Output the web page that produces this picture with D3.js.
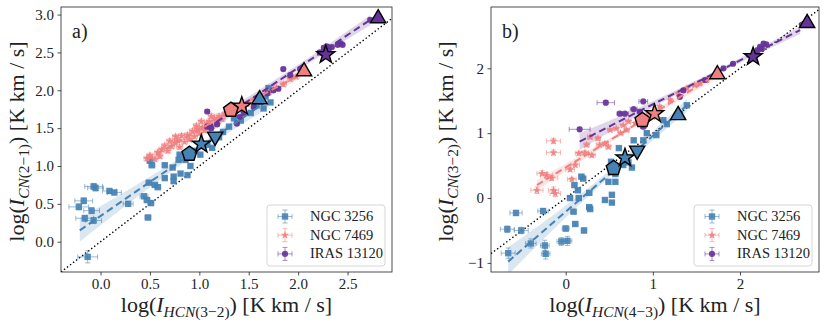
<!doctype html>
<html lang="en">
<head>
<meta charset="UTF-8" />
<script src="https://d3js.org/d3.v7.min.js"></script>
<title>CN vs HCN</title>
<style>
  body { margin: 0; background: white; }
  svg text { font-family: "Liberation Serif", "Times New Roman", serif; fill: #222; }
</style>
</head>
<body>
<div id="chart"></div>
<script>
// ---- data: [x, y, xerr, yerr] in log K km/s ----
// panel a) CN(2-1) vs HCN(3-2)
const a_ngc3256 = [
  [-0.13,-0.20,0.10,0.08],[-0.07,0.73,0.09,0.04],[-0.05,0.71,0.08,0.04],[0.09,0.67,0.07,0.03],
  [0.14,0.65,0.07,0.03],[-0.17,0.54,0.09,0.04],[-0.22,0.46,0.10,0.04],[-0.09,0.41,0.08,0.04],
  [-0.16,0.31,0.09,0.04],[-0.07,0.28,0.08,0.04],[0.28,0.50,0.05,0.03],[0.48,0.32,0.03,0.03],
  [0.44,0.60,0.04,0.03],[0.47,0.55,0.03,0.03],[0.51,0.51,0.03,0.03],[0.49,0.78,0.03,0.02],
  [0.55,0.75,0.03,0.02],[0.58,0.72,0.03,0.02],[0.50,1.07,0.03,0.02],[0.52,1.01,0.03,0.02],
  [0.65,1.01,0.02,0.02],[0.65,0.84,0.02,0.02],[0.74,0.86,0.02,0.02],[0.74,0.80,0.02,0.02],
  [0.81,0.90,0.02,0.02],[0.88,0.88,0.02,0.02],[0.73,0.98,0.02,0.02],[0.79,1.08,0.02,0.02],
  [0.80,1.15,0.02,0.02],[0.86,1.08,0.02,0.02],[0.91,1.00,0.02,0.02],[0.96,1.20,0.02,0.02],
  [1.01,1.15,0.02,0.02],[1.08,1.28,0.02,0.02],[1.13,1.24,0.02,0.02],[1.20,1.38,0.02,0.02],
  [1.24,1.45,0.02,0.02],[1.30,1.52,0.02,0.02],[1.35,1.63,0.02,0.02],[1.42,1.60,0.02,0.02],
  [1.45,1.74,0.02,0.02],[1.52,1.70,0.02,0.02],[1.58,1.80,0.02,0.02],[1.65,1.76,0.02,0.02],
  [1.67,1.92,0.02,0.02],[1.70,2.03,0.02,0.02],[1.72,1.84,0.02,0.02]
]
const a_ngc7469 = [
  [0.47,1.10,0.03,0.03],[0.50,1.14,0.03,0.03],[0.55,1.09,0.03,0.03],[0.58,1.18,0.03,0.03],
  [0.60,1.13,0.03,0.03],[0.62,1.22,0.03,0.03],[0.65,1.27,0.03,0.03],[0.68,1.20,0.03,0.03],
  [0.70,1.33,0.03,0.03],[0.72,1.26,0.03,0.03],[0.75,1.31,0.03,0.03],[0.76,1.39,0.03,0.03],
  [0.78,1.34,0.03,0.03],[0.80,1.25,0.03,0.03],[0.82,1.40,0.03,0.03],[0.85,1.32,0.03,0.03],
  [0.88,1.41,0.03,0.03],[0.90,1.35,0.03,0.03],[0.93,1.46,0.03,0.03],[0.95,1.39,0.03,0.03],
  [0.97,1.53,0.03,0.03],[0.98,1.49,0.03,0.03],[1.00,1.43,0.03,0.03],[1.02,1.59,0.03,0.03],
  [1.03,1.51,0.03,0.03],[1.05,1.47,0.03,0.03],[1.08,1.56,0.03,0.03],[1.10,1.59,0.03,0.03],
  [1.12,1.66,0.03,0.03],[1.13,1.53,0.03,0.03],[1.15,1.63,0.03,0.03],[1.18,1.59,0.03,0.03],
  [1.20,1.66,0.03,0.03],[1.23,1.62,0.03,0.03],[1.26,1.69,0.03,0.03],[1.30,1.72,0.03,0.03],
  [1.35,1.76,0.03,0.03],[1.40,1.78,0.03,0.03],[1.48,1.82,0.03,0.03],[1.55,1.87,0.03,0.03],
  [1.62,1.92,0.03,0.03],[1.70,1.97,0.03,0.03],[1.78,2.03,0.03,0.03],[1.85,2.08,0.03,0.03],
  [1.92,2.15,0.03,0.03],[1.98,2.18,0.03,0.03]
]
const a_iras13120 = [
  [1.08,1.72,0.02,0.02],[1.08,1.52,0.02,0.02],[1.12,1.50,0.02,0.02],[1.18,1.55,0.02,0.02],
  [1.38,1.56,0.02,0.02],[1.41,1.65,0.02,0.02],[1.45,1.70,0.02,0.02],[1.55,1.78,0.02,0.02],
  [1.62,1.85,0.02,0.02],[1.69,1.96,0.02,0.02],[1.75,2.00,0.02,0.02],[1.80,2.02,0.02,0.02],
  [1.85,2.28,0.02,0.02],[1.92,2.20,0.02,0.02],[2.02,2.28,0.02,0.02],[2.22,2.50,0.02,0.02],
  [2.26,2.56,0.02,0.02],[2.29,2.58,0.02,0.02],[2.31,2.55,0.02,0.02],[2.34,2.57,0.02,0.02],
  [2.40,2.60,0.02,0.02],[2.43,2.62,0.02,0.02],[2.45,2.60,0.02,0.02],[2.73,2.93,0.02,0.02]
]
// integrated values (big markers): [x, y, galaxy, shape]
const a_big = [
  [0.90,1.16,"n3256","pentagon"],[1.02,1.29,"n3256","star"],[1.16,1.37,"n3256","down"],
  [1.61,1.90,"n3256","up"],[1.32,1.74,"n7469","pentagon"],[1.43,1.79,"n7469","star"],
  [2.06,2.27,"n7469","up"],[2.28,2.47,"iras","star"],[2.81,2.97,"iras","up"]
]
// fits: [x, y, ylow, yhigh]
const a_fit3256 = [[-0.21,0.15,0.00,0.31],[0.40,0.70,0.62,0.78],[0.75,1.01,0.96,1.06],[1.20,1.42,1.36,1.47],[1.70,1.87,1.77,1.95]]
const a_fit7469 = [[0.47,1.08,1.03,1.13],[1.20,1.63,1.61,1.66],[1.98,2.18,2.13,2.23]]
const a_fitiras = [[1.08,1.50,1.43,1.58],[1.90,2.21,2.18,2.25],[2.73,2.93,2.86,2.99]]

// panel b) CN(3-2) vs HCN(4-3)
const b_ngc3256 = [
  [-0.66,-0.85,0.08,0.08],[-0.67,-0.48,0.08,0.05],[-0.51,-0.50,0.08,0.05],[-0.57,-0.23,0.07,0.04],
  [-0.26,-0.20,0.06,0.04],[-0.40,-0.70,0.06,0.07],[-0.24,-0.73,0.05,0.08],[-0.23,-0.86,0.05,0.08],
  [-0.05,-0.67,0.05,0.06],[0.02,-0.66,0.05,0.07],[0.00,-0.47,0.04,0.04],[0.11,-0.40,0.03,0.03],
  [0.21,-0.50,0.03,0.04],[0.09,-0.21,0.03,0.03],[0.05,0.00,0.03,0.03],[0.15,0.00,0.03,0.03],
  [0.27,-0.14,0.03,0.03],[0.28,-0.17,0.03,0.03],[0.27,0.08,0.03,0.03],[0.14,0.12,0.03,0.03],
  [0.10,0.20,0.03,0.03],[0.18,0.33,0.03,0.03],[0.20,0.30,0.03,0.03],[0.45,-0.03,0.02,0.02],
  [0.53,0.05,0.02,0.02],[0.53,-0.07,0.02,0.02],[0.49,0.25,0.02,0.02],[0.57,0.25,0.02,0.02],
  [0.57,0.37,0.02,0.02],[0.52,0.56,0.02,0.02],[0.66,0.51,0.02,0.02],[0.76,0.47,0.02,0.02],
  [0.72,0.55,0.02,0.02],[0.61,0.77,0.02,0.02],[0.78,0.89,0.02,0.02],[0.89,0.89,0.02,0.02],
  [0.93,1.00,0.02,0.02],[1.04,0.97,0.02,0.02],[1.12,1.20,0.02,0.02],[1.16,1.14,0.02,0.02],
  [1.31,1.30,0.02,0.02],[1.39,1.43,0.02,0.02]
]
const b_ngc7469 = [
  [-0.14,0.88,0.08,0.04],[-0.14,0.70,0.08,0.04],[-0.22,0.35,0.07,0.04],[-0.16,0.31,0.07,0.04],
  [-0.33,0.12,0.07,0.05],[-0.14,0.12,0.06,0.05],[-0.12,0.07,0.06,0.05],[-0.27,0.38,0.06,0.04],
  [0.05,0.44,0.05,0.03],[0.11,0.51,0.05,0.03],[0.07,0.29,0.05,0.03],[0.15,0.69,0.04,0.03],
  [0.22,0.70,0.04,0.03],[0.30,0.66,0.04,0.03],[0.39,0.82,0.04,0.03],[0.45,0.84,0.03,0.03],
  [0.49,0.79,0.03,0.03],[0.37,0.92,0.03,0.03],[0.28,0.94,0.03,0.03],[0.24,0.82,0.03,0.03],
  [0.51,1.05,0.03,0.02],[0.58,1.07,0.03,0.02],[0.66,1.12,0.03,0.02],[0.72,1.18,0.03,0.02],
  [0.70,1.05,0.03,0.02],[0.63,1.00,0.03,0.02],[0.80,1.15,0.02,0.02],[0.95,1.30,0.02,0.02],
  [1.00,1.25,0.02,0.02],[1.08,1.41,0.02,0.02],[1.20,1.51,0.02,0.02],[1.29,1.61,0.02,0.02],
  [1.39,1.69,0.02,0.02],[1.48,1.74,0.02,0.02],[1.54,1.77,0.02,0.02],[1.62,1.82,0.02,0.02]
]
const b_iras13120 = [
  [0.16,1.06,0.12,0.03],[0.46,1.47,0.10,0.03],[0.89,1.49,0.05,0.02],[0.68,1.30,0.04,0.02],
  [0.78,1.37,0.04,0.02],[0.85,1.33,0.03,0.02],[0.89,1.10,0.03,0.02],[0.62,1.30,0.03,0.02],
  [1.31,1.56,0.02,0.02],[1.35,1.66,0.02,0.02],[1.60,1.82,0.02,0.02],[1.81,2.00,0.02,0.02],
  [1.92,2.07,0.02,0.02],[2.20,2.28,0.02,0.02],[2.23,2.33,0.02,0.02],[2.25,2.30,0.02,0.02],
  [2.27,2.38,0.02,0.02],[2.30,2.37,0.02,0.02],[2.71,2.67,0.02,0.02]
]
const b_big = [
  [0.55,0.46,"n3256","pentagon"],[0.68,0.62,"n3256","star"],[0.82,0.71,"n3256","down"],
  [1.29,1.30,"n3256","up"],[0.88,1.20,"n7469","pentagon"],[1.02,1.30,"n7469","star"],
  [1.74,1.93,"n7469","up"],[2.15,2.18,"iras","star"],[2.77,2.72,"iras","up"]
]
const b_fit3256 = [[-0.66,-0.98,-1.18,-0.76],[0.00,-0.21,-0.30,-0.12],[0.40,0.25,0.20,0.31],[0.90,0.84,0.78,0.90],[1.39,1.43,1.33,1.53]]
const b_fit7469 = [[-0.33,0.20,0.12,0.28],[0.70,1.05,1.02,1.08],[1.75,1.92,1.86,1.98]]
const b_fitiras = [[0.16,0.87,0.74,1.00],[0.80,1.31,1.25,1.37],[1.60,1.85,1.82,1.88],[2.69,2.59,2.53,2.65]]

const legendNames = ["NGC 3256", "NGC 7469", "IRAS 13120"]
const aXTicks = [0.0, 0.5, 1.0, 1.5, 2.0, 2.5]
const aYTicks = [0.0, 0.5, 1.0, 1.5, 2.0, 2.5, 3.0]
const bXTicks = [0, 1, 2]
const bYTicks = [-1, 0, 1, 2]

// ---- drawing ----
const FONT = '"Liberation Serif", "Times New Roman", serif'
const colors = { n3256: "#4682b4", n7469: "#f07f7f", iras: "#663399" }
const svg = d3.select("#chart").append("svg").attr("width", 830).attr("height", 328)

// marker path, centred on 0,0
function shape(kind, r) {
  const p = d3.path()
  const poly = (n, rot, rad) => {
    for (let i = 0; i < n; i++) {
      const a = rot + i * 2 * Math.PI / n
      i ? p.lineTo(rad * Math.cos(a), rad * Math.sin(a)) : p.moveTo(rad * Math.cos(a), rad * Math.sin(a))
    }
    p.closePath()
  }
  if (kind === "square") { p.rect(-r, -r, 2 * r, 2 * r) }
  else if (kind === "circle") { p.arc(0, 0, r, 0, 2 * Math.PI) }
  else if (kind === "pentagon") { poly(5, -Math.PI / 2, r) }
  else if (kind === "up") { poly(3, -Math.PI / 2, r) }
  else if (kind === "down") { poly(3, Math.PI / 2, r) }
  else if (kind === "star") {
    for (let i = 0; i < 10; i++) {
      const a = -Math.PI / 2 + i * Math.PI / 5
      const rad = i % 2 ? r * 0.4 : r
      i ? p.lineTo(rad * Math.cos(a), rad * Math.sin(a)) : p.moveTo(rad * Math.cos(a), rad * Math.sin(a))
    }
    p.closePath()
  }
  return p.toString()
}

function mathText(t, parts, size) {
  let shifted = false
  t.style("font-family", FONT)
  parts.forEach(part => {
    const ts = t.append("tspan").text(part.t).attr("font-size", part.sub ? size * 0.7 : size)
    if (part.it) ts.attr("font-style", "italic")
    if (part.sub && !shifted) { ts.attr("dy", size * 0.22); shifted = true }
    if (!part.sub && shifted) { ts.attr("dy", -size * 0.22); shifted = false }
  })
}

function errorPoint(g, cx, cy, ex, ey, color, kind, r) {
  const cap = 2.5
  const eb = g.append("g").attr("stroke", color).attr("stroke-opacity", 0.55).attr("stroke-width", 1)
  eb.append("line").attr("x1", cx - ex).attr("x2", cx + ex).attr("y1", cy).attr("y2", cy)
  eb.append("line").attr("x1", cx).attr("x2", cx).attr("y1", cy - ey).attr("y2", cy + ey)
  eb.append("line").attr("x1", cx - ex).attr("x2", cx - ex).attr("y1", cy - cap).attr("y2", cy + cap)
  eb.append("line").attr("x1", cx + ex).attr("x2", cx + ex).attr("y1", cy - cap).attr("y2", cy + cap)
  eb.append("line").attr("x1", cx - cap).attr("x2", cx + cap).attr("y1", cy - ey).attr("y2", cy - ey)
  eb.append("line").attr("x1", cx - cap).attr("x2", cx + cap).attr("y1", cy + ey).attr("y2", cy + ey)
  g.append("path").attr("d", shape(kind, r)).attr("transform", `translate(${cx},${cy})`)
    .attr("fill", color).attr("fill-opacity", 0.9)
}

function drawPanel(cfg) {
  const x = d3.scaleLinear().domain(cfg.xDomain).range([cfg.left, cfg.right])
  const y = d3.scaleLinear().domain(cfg.yDomain).range([cfg.bottom, cfg.top])
  const g = svg.append("g")

  g.append("clipPath").attr("id", cfg.id).append("rect")
    .attr("x", cfg.left).attr("y", cfg.top)
    .attr("width", cfg.right - cfg.left).attr("height", cfg.bottom - cfg.top)
  const plot = g.append("g").attr("clip-path", `url(#${cfg.id})`)

  // one-to-one line
  plot.append("line")
    .attr("x1", x(cfg.xDomain[0])).attr("y1", y(cfg.xDomain[0]))
    .attr("x2", x(cfg.xDomain[1])).attr("y2", y(cfg.xDomain[1]))
    .attr("stroke", "black").attr("stroke-width", 1.4).attr("stroke-dasharray", "1.4,2.4")

  const fits = [[cfg.fits[0], "n3256"], [cfg.fits[1], "n7469"], [cfg.fits[2], "iras"]]
  fits.forEach(([f, c]) => {
    plot.append("path").datum(f)
      .attr("d", d3.area().x(d => x(d[0])).y0(d => y(d[2])).y1(d => y(d[3])).curve(d3.curveMonotoneX))
      .attr("fill", colors[c]).attr("fill-opacity", 0.2)
  })

  const sets = [[cfg.sets[0], "n3256", "square", 3.2], [cfg.sets[1], "n7469", "star", 4.3], [cfg.sets[2], "iras", "circle", 3.1]]
  sets.forEach(([data, c, kind, r]) => {
    data.forEach(d => {
      const cx = x(d[0]), cy = y(d[1])
      errorPoint(plot, cx, cy, x(d[0] + d[2]) - cx, cy - y(d[1] + d[3]), colors[c], kind, r)
    })
  })

  fits.forEach(([f, c]) => {
    plot.append("path").datum(f)
      .attr("d", d3.line().x(d => x(d[0])).y(d => y(d[1])))
      .attr("fill", "none").attr("stroke", colors[c]).attr("stroke-width", 2)
      .attr("stroke-dasharray", "7,4")
  })

  cfg.big.forEach(d => {
    const r = d[3] === "star" ? 9.5 : d[3] === "pentagon" ? 7.8 : 8.8
    plot.append("path").attr("d", shape(d[3], r))
      .attr("transform", `translate(${x(d[0])},${y(d[1]) + (d[3] === "up" ? 1.5 : d[3] === "down" ? -1.5 : 0)})`)
      .attr("fill", colors[d[2]]).attr("stroke", "black").attr("stroke-width", 1.4)
  })

  // axes
  const xAxis = g.append("g").attr("transform", `translate(0,${cfg.bottom})`)
    .call(d3.axisBottom(x).tickValues(cfg.xTicks).tickFormat(d3.format(cfg.fmt)).tickSize(3.5).tickPadding(3))
  const yAxis = g.append("g").attr("transform", `translate(${cfg.left},0)`)
    .call(d3.axisLeft(y).tickValues(cfg.yTicks).tickFormat(d3.format(cfg.fmt)).tickSize(3.5).tickPadding(3.5))
  ;[xAxis, yAxis].forEach(a => {
    a.attr("font-family", null).attr("font-size", null)
    a.select(".domain").remove()
    a.selectAll("line").attr("stroke", "#222").attr("stroke-width", 0.8)
    a.selectAll("text").attr("font-size", 15).style("font-family", FONT).attr("fill", "#222")
  })
  g.append("rect").attr("x", cfg.left).attr("y", cfg.top)
    .attr("width", cfg.right - cfg.left).attr("height", cfg.bottom - cfg.top)
    .attr("fill", "none").attr("stroke", "#222").attr("stroke-width", 0.8)

  // labels
  g.append("text").attr("x", cfg.left + 11).attr("y", 37.5).attr("font-size", 20)
    .style("font-family", FONT).text(cfg.tag)
  const xl = g.append("text").attr("x", (cfg.left + cfg.right) / 2).attr("y", 312).attr("text-anchor", "middle")
  mathText(xl, cfg.xLabel, 22)
  const yl = g.append("text").attr("text-anchor", "middle")
    .attr("transform", `translate(${cfg.yLabelX},${(cfg.top + cfg.bottom) / 2 + 2}) rotate(-90)`)
  mathText(yl, cfg.yLabel, 22)

  // legend
  const lx = cfg.right - 125, ly = 205
  g.append("rect").attr("x", lx).attr("y", ly).attr("width", 118).attr("height", 61).attr("rx", 3)
    .attr("fill", "white").attr("fill-opacity", 0.85).attr("stroke", "#ccc").attr("stroke-width", 0.8)
  ;[["n3256", "square", 3.2], ["n7469", "star", 4.3], ["iras", "circle", 3.1]].forEach(([c, kind, r], i) => {
    const cy = ly + 11.5 + i * 18.7
    errorPoint(g, lx + 18, cy, 7, 6.5, colors[c], kind, r)
    g.append("text").attr("x", lx + 43).attr("y", cy + 4.5).attr("font-size", 14.5)
      .style("font-family", FONT).text(legendNames[i])
  })
}

drawPanel({
  id: "clipA", tag: "a)", left: 61, right: 392, top: 7, bottom: 272,
  xDomain: [-0.4, 2.95], yDomain: [-0.4, 3.1], xTicks: aXTicks, yTicks: aYTicks, fmt: ".1f",
  sets: [a_ngc3256, a_ngc7469, a_iras13120], big: a_big, fits: [a_fit3256, a_fit7469, a_fitiras],
  yLabelX: 24,
  xLabel: [{ t: "log(" }, { t: "I", it: true }, { t: "HCN", it: true, sub: true }, { t: "(3−2)", sub: true }, { t: ") [K km / s]" }],
  yLabel: [{ t: "log(" }, { t: "I", it: true }, { t: "CN", it: true, sub: true }, { t: "(2−1)", sub: true }, { t: ") [K km / s]" }]
})
drawPanel({
  id: "clipB", tag: "b)", left: 491, right: 819, top: 7, bottom: 272,
  xDomain: [-0.857, 2.906], yDomain: [-1.14, 2.945], xTicks: bXTicks, yTicks: bYTicks, fmt: "d",
  sets: [b_ngc3256, b_ngc7469, b_iras13120], big: b_big, fits: [b_fit3256, b_fit7469, b_fitiras],
  yLabelX: 453,
  xLabel: [{ t: "log(" }, { t: "I", it: true }, { t: "HCN", it: true, sub: true }, { t: "(4−3)", sub: true }, { t: ") [K km / s]" }],
  yLabel: [{ t: "log(" }, { t: "I", it: true }, { t: "CN", it: true, sub: true }, { t: "(3−2)", sub: true }, { t: ") [K km / s]" }]
})
</script>
</body>
</html>
